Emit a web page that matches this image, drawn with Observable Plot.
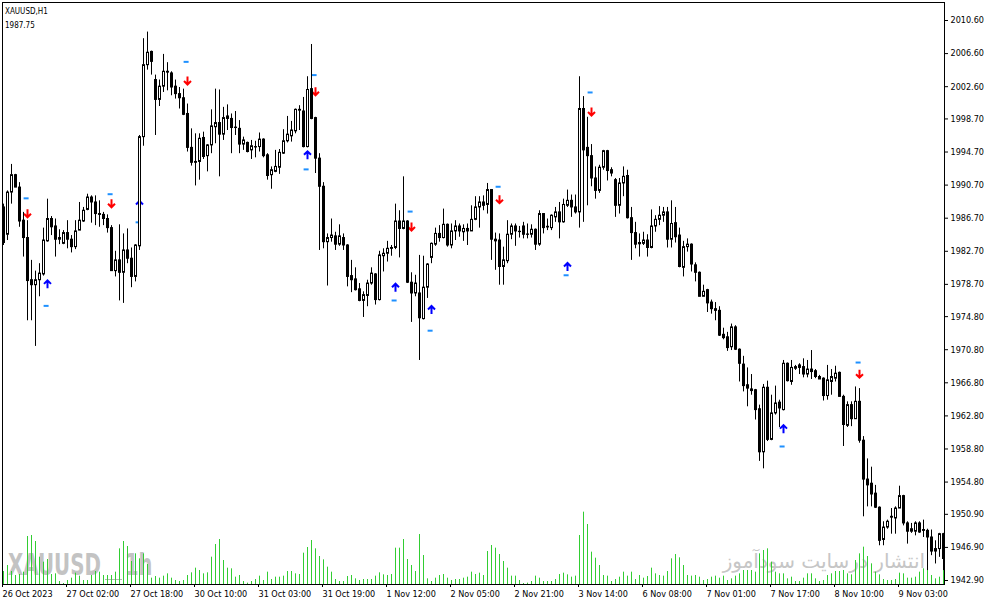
<!DOCTYPE html>
<html>
<head>
<meta charset="utf-8">
<script src="https://cdn.jsdelivr.net/npm/d3@7"></script>
<script src="https://cdn.jsdelivr.net/npm/@observablehq/plot@0.6"></script>
<style>
  body { margin: 0; background: #fff; }
  #chart { position: relative; width: 991px; height: 605px; overflow: hidden; }
  #chart > svg { position: absolute; left: 0; top: 0; }
</style>
</head>
<body>
<div id="chart">
  <svg id="wm" width="991" height="605">
    <g fill="#c3c3c3" font-family="'DejaVu Sans Condensed','DejaVu Sans',sans-serif" font-weight="bold" font-size="30">
      <text transform="translate(8,575) scale(0.735,1)">XAUUSD</text>
      <text transform="translate(125,575) scale(0.72,1)">1h</text>
    </g>
    <line x1="105" x2="122" y1="579.5" y2="579.5" stroke="#b8b8b8" stroke-width="1"></line>
    <text x="925" y="568" direction="rtl" text-anchor="start" font-family="'DejaVu Sans',sans-serif" font-size="20" fill="#c6c6c6">انتشار درسایت سودآموز</text>
    <text x="5" y="13.5" font-family="'DejaVu Sans Condensed','DejaVu Sans',sans-serif" font-size="8" fill="#000">XAUUSD,H1</text>
    <text x="5" y="28" font-family="'DejaVu Sans Condensed','DejaVu Sans',sans-serif" font-size="8" fill="#000">1987.75</text>
  </svg>
</div>
<script>
// XAUUSD H1 bars, 26 Oct 2023 10:00 -> 9 Nov 2023
const open = [
  1988.0, 1984.7, 1989.8, 1991.9, 1990.4, 1986.4, 1984.3, 1979.2, 1978.6, 1979.2,
  1979.9, 1983.9, 1986.6, 1985.7, 1984.1, 1983.6, 1984.9, 1984.1, 1983.2, 1985.2,
  1986.3, 1987.7, 1989.2, 1988.6, 1987.2, 1987.1, 1986.6, 1985.5, 1980.3, 1981.6,
  1980.1, 1982.8, 1981.8, 1979.6, 1983.3, 1996.5, 2005.2, 2006.8, 2003.4, 2001.0,
  2002.6, 2004.4, 2004.2, 2002.6, 2001.7, 2001.2, 1999.3, 1995.2, 1993.5, 1993.5,
  1996.4, 1994.2, 1995.5, 1997.7, 1998.2, 1996.8, 1999.0, 1998.7, 1997.65, 1997.5,
  1995.6, 1995.8, 1994.9, 1995.25, 1995.3, 1996.2, 1994.3, 1991.9, 1992.3, 1992.8,
  1994.5, 1996.0, 1996.6, 1997.2, 1999.7, 1999.6, 1995.3, 2002.3, 1998.8, 1993.9,
  1990.5, 1983.8, 1984.3, 1984.5, 1983.5, 1984.3, 1983.4, 1979.7, 1979.3, 1978.1,
  1976.7, 1977.3, 1978.8, 1979.9, 1976.8, 1982.1, 1982.4, 1983.1, 1983.1, 1986.3,
  1985.4, 1986.3, 1978.9, 1977.6, 1977.6, 1974.5, 1978.3, 1981.9, 1983.5, 1984.8,
  1984.3, 1985.9, 1983.4, 1985.1, 1985.7, 1985.0, 1985.4, 1985.1, 1986.5, 1988.0,
  1988.6, 1988.3, 1990.1, 1984.1, 1984.0, 1980.8, 1981.5, 1984.7, 1985.7, 1985.06,
  1985.7, 1984.73, 1984.7, 1985.3, 1983.5, 1987.2, 1985.66, 1985.5, 1986.8, 1987.4,
  1986.2, 1988.2, 1988.8, 1988.0, 1987.4, 1999.9, 1995.2, 1994.2, 1991.5, 1990.0,
  1992.8, 1994.8, 1992.5, 1991.3, 1988.2, 1990.9, 1991.8, 1986.7, 1984.9, 1983.7,
  1983.6, 1984.0, 1983.1, 1985.7, 1986.5, 1987.0, 1987.4, 1984.1, 1986.1, 1984.6,
  1980.7, 1983.2, 1983.5, 1981.0, 1980.1, 1977.2, 1978.0, 1976.5, 1975.7, 1975.5,
  1972.6, 1972.3, 1971.1, 1973.5, 1970.8, 1969.0, 1966.5, 1966.0, 1965.9, 1963.6,
  1958.4, 1966.2, 1959.9, 1963.1, 1964.4, 1963.5, 1969.1, 1966.9, 1968.5, 1968.9,
  1968.7, 1967.8, 1968.4, 1968.2, 1967.5, 1967.3, 1965.2, 1966.9, 1967.3, 1968.0,
  1965.1, 1961.6, 1964.1, 1962.4, 1964.5, 1959.8, 1955.1, 1954.6, 1953.4, 1951.7,
  1947.8, 1949.3, 1950.6, 1950.4, 1951.6, 1953.1, 1949.8, 1948.8, 1948.8, 1949.8,
  1949.0, 1948.9, 1948.1, 1946.4, 1946.7, 1948.5
];
const high = [
  1988.4, 1990.0, 1993.2, 1992.0, 1991.0, 1987.4, 1986.4, 1981.6, 1980.3, 1981.2,
  1985.5, 1989.0, 1986.9, 1986.6, 1985.3, 1985.2, 1986.4, 1984.6, 1986.4, 1988.6,
  1988.0, 1989.6, 1989.4, 1989.4, 1988.8, 1987.4, 1987.1, 1985.8, 1982.7, 1985.9,
  1984.8, 1985.4, 1983.1, 1983.5, 1996.7, 2008.4, 2009.2, 2006.9, 2004.0, 2003.4,
  2006.5, 2005.5, 2004.4, 2003.4, 2002.5, 2002.3, 2000.5, 1997.5, 1996.9, 1996.9,
  1997.1, 1995.6, 1999.8, 2002.3, 2002.2, 2000.1, 2000.4, 1999.3, 1999.6, 1998.5,
  1996.5, 1995.9, 1996.1, 1996.0, 1997.0, 1996.3, 1994.5, 1992.9, 1994.9, 1995.0,
  1997.4, 1999.0, 1998.4, 1999.9, 2000.3, 2001.3, 2003.8, 2007.7, 1998.9, 1994.5,
  1991.0, 1984.8, 1986.6, 1985.0, 1985.9, 1984.8, 1983.5, 1981.6, 1980.7, 1978.8,
  1977.8, 1979.2, 1980.7, 1980.0, 1982.7, 1983.0, 1983.9, 1983.4, 1988.4, 1987.6,
  1991.7, 1986.4, 1980.1, 1979.8, 1982.2, 1982.1, 1981.2, 1983.7, 1985.5, 1985.8,
  1987.8, 1986.0, 1986.0, 1986.4, 1986.0, 1985.9, 1986.0, 1988.2, 1989.3, 1989.3,
  1989.4, 1990.9, 1990.1, 1984.9, 1984.8, 1983.2, 1986.4, 1986.0, 1986.0, 1985.7,
  1986.2, 1986.0, 1985.9, 1985.4, 1987.6, 1987.2, 1986.6, 1987.1, 1988.0, 1988.6,
  1989.0, 1990.1, 1989.5, 1989.5, 2003.8, 2001.4, 1998.9, 1995.6, 1992.9, 1993.1,
  1994.9, 1994.9, 1992.8, 1991.5, 1991.5, 1992.9, 1992.5, 1988.0, 1986.2, 1984.8,
  1985.0, 1984.7, 1987.7, 1987.0, 1988.1, 1988.0, 1988.0, 1988.8, 1988.0, 1985.5,
  1983.9, 1984.2, 1983.6, 1981.3, 1980.2, 1978.6, 1978.1, 1976.8, 1976.5, 1976.0,
  1973.4, 1972.9, 1973.9, 1973.7, 1970.9, 1970.0, 1968.6, 1967.8, 1966.0, 1964.1,
  1966.6, 1967.0, 1965.3, 1966.4, 1964.7, 1969.5, 1969.2, 1969.5, 1968.9, 1969.1,
  1969.7, 1969.5, 1970.7, 1968.4, 1967.7, 1967.4, 1968.9, 1968.4, 1968.8, 1968.1,
  1965.3, 1964.5, 1964.5, 1966.3, 1966.1, 1960.3, 1957.6, 1956.6, 1954.4, 1951.8,
  1950.0, 1950.2, 1951.6, 1951.8, 1954.3, 1953.2, 1950.0, 1949.8, 1950.0, 1950.0,
  1950.2, 1949.1, 1949.0, 1947.7, 1948.6, 1948.6
];
const low = [
  1983.4, 1984.0, 1988.4, 1990.4, 1985.6, 1982.0, 1974.3, 1974.3, 1971.2, 1977.2,
  1979.7, 1983.8, 1984.6, 1982.0, 1983.5, 1983.5, 1983.0, 1982.5, 1982.9, 1985.2,
  1986.2, 1987.6, 1986.1, 1985.8, 1985.6, 1985.8, 1984.9, 1980.3, 1979.6, 1976.7,
  1976.4, 1981.2, 1978.3, 1979.0, 1982.8, 1995.4, 2004.6, 2004.0, 1996.7, 2000.2,
  2001.9, 2002.1, 2001.5, 2001.1, 1999.9, 1999.1, 1994.7, 1993.0, 1990.6, 1991.3,
  1993.8, 1992.3, 1994.5, 1995.7, 1991.7, 1996.1, 1997.3, 1994.5, 1996.7, 1994.5,
  1994.9, 1994.6, 1993.8, 1994.0, 1994.7, 1994.0, 1991.3, 1990.2, 1992.2, 1992.0,
  1994.4, 1995.8, 1995.9, 1996.9, 1997.3, 1995.2, 1995.2, 1998.6, 1992.1, 1982.8,
  1983.0, 1978.5, 1983.8, 1982.8, 1983.3, 1982.8, 1978.4, 1977.7, 1977.9, 1976.6,
  1974.7, 1976.0, 1978.6, 1976.2, 1976.7, 1980.2, 1981.4, 1982.1, 1982.9, 1981.9,
  1985.3, 1978.8, 1974.1, 1977.2, 1969.5, 1974.4, 1977.0, 1981.2, 1983.3, 1983.8,
  1984.2, 1983.2, 1983.0, 1984.0, 1984.4, 1983.9, 1983.4, 1985.1, 1986.4, 1985.5,
  1987.6, 1987.2, 1981.6, 1980.4, 1978.6, 1978.6, 1981.2, 1984.1, 1983.3, 1984.3,
  1984.2, 1984.2, 1984.3, 1982.8, 1983.3, 1984.8, 1985.2, 1985.2, 1986.2, 1984.2,
  1986.1, 1988.0, 1986.8, 1987.2, 1985.5, 1986.2, 1988.2, 1990.5, 1989.0, 1989.7,
  1992.5, 1991.2, 1991.7, 1986.8, 1987.2, 1989.3, 1986.6, 1981.6, 1983.0, 1982.0,
  1983.4, 1982.0, 1983.0, 1985.0, 1985.8, 1986.2, 1983.1, 1983.1, 1983.7, 1980.7,
  1979.6, 1982.6, 1980.2, 1979.0, 1977.2, 1977.2, 1975.3, 1975.1, 1974.3, 1972.4,
  1972.0, 1970.6, 1970.7, 1970.7, 1966.9, 1965.7, 1963.9, 1965.3, 1962.3, 1957.3,
  1956.4, 1959.7, 1959.8, 1962.9, 1961.4, 1963.4, 1966.9, 1966.5, 1968.3, 1967.8,
  1967.4, 1967.4, 1967.2, 1967.3, 1967.2, 1964.6, 1964.7, 1965.3, 1966.9, 1965.1,
  1959.1, 1961.4, 1961.5, 1962.4, 1959.5, 1950.6, 1951.8, 1951.8, 1951.6, 1947.1,
  1947.1, 1949.1, 1948.5, 1948.5, 1951.6, 1949.5, 1947.3, 1948.6, 1948.3, 1948.6,
  1948.1, 1944.1, 1945.9, 1944.9, 1945.7, 1944.1
];
const close = [
  1983.7, 1989.8, 1991.9, 1990.4, 1986.3, 1984.3, 1979.1, 1978.6, 1979.2, 1980.0,
  1984.0, 1986.6, 1985.6, 1984.1, 1984.3, 1984.9, 1984.1, 1983.2, 1985.1, 1986.4,
  1987.6, 1989.2, 1988.6, 1987.2, 1987.1, 1986.6, 1985.5, 1980.3, 1981.6, 1980.1,
  1982.8, 1981.8, 1979.6, 1983.4, 1996.5, 2005.2, 2006.7, 2005.6, 2001.0, 2002.6,
  2004.4, 2004.3, 2002.5, 2001.7, 2001.2, 1999.2, 1995.2, 1993.4, 1993.4, 1996.3,
  1994.1, 1995.5, 1997.8, 1998.2, 1996.8, 1998.8, 1998.7, 1997.6, 1997.6, 1995.6,
  1996.1, 1994.7, 1995.4, 1995.3, 1996.2, 1994.2, 1991.8, 1992.5, 1992.9, 1994.6,
  1996.0, 1996.8, 1997.3, 1999.8, 1999.8, 1995.3, 2002.2, 1998.7, 1993.9, 1990.5,
  1983.8, 1984.3, 1984.6, 1983.5, 1984.5, 1983.4, 1979.6, 1979.2, 1978.0, 1976.7,
  1977.4, 1978.8, 1980.0, 1976.8, 1982.2, 1982.4, 1983.0, 1983.0, 1986.3, 1985.4,
  1986.3, 1978.9, 1977.6, 1978.8, 1974.6, 1978.3, 1981.1, 1983.6, 1984.8, 1984.3,
  1985.9, 1983.4, 1985.1, 1985.7, 1985.1, 1985.4, 1985.1, 1986.5, 1988.0, 1988.6,
  1988.2, 1990.1, 1984.1, 1983.9, 1980.8, 1981.6, 1984.7, 1985.7, 1985.1, 1985.02,
  1984.7, 1984.69, 1985.3, 1983.5, 1987.2, 1985.5, 1985.58, 1987.0, 1987.4, 1986.2,
  1988.3, 1988.8, 1988.0, 1987.4, 1999.9, 1994.9, 1994.2, 1991.5, 1990.0, 1992.8,
  1994.8, 1992.4, 1992.1, 1988.2, 1990.9, 1991.7, 1986.7, 1984.9, 1983.5, 1983.55,
  1984.0, 1983.1, 1985.7, 1986.5, 1987.0, 1987.4, 1984.1, 1986.0, 1984.4, 1980.8,
  1983.2, 1983.5, 1981.1, 1980.1, 1977.2, 1977.8, 1976.4, 1975.7, 1975.5, 1972.5,
  1972.2, 1971.0, 1973.5, 1970.8, 1969.1, 1966.4, 1966.1, 1965.8, 1963.5, 1958.4,
  1966.2, 1959.9, 1963.1, 1964.3, 1963.7, 1969.1, 1967.0, 1968.6, 1968.7, 1968.6,
  1967.8, 1968.4, 1968.1, 1967.5, 1967.2, 1965.2, 1967.1, 1967.5, 1967.9, 1965.1,
  1961.7, 1964.1, 1962.4, 1964.5, 1959.8, 1955.1, 1954.4, 1953.3, 1951.7, 1947.7,
  1949.3, 1950.0, 1950.5, 1951.6, 1953.1, 1949.8, 1948.8, 1949.1, 1949.8, 1948.7,
  1948.9, 1948.1, 1946.4, 1946.7, 1948.5, 1945.5
];
// tick volume
const volume = [
  3900, 5700, 3900, 2700, 3000, 3700, 14400, 14700, 12900, 8200,
  6700, 7500, 3000, 3200, 900, 300, 1200, 1900, 3400, 2500,
  1200, 1200, 2700, 3900, 3700, 2700, 2700, 2700, 3700, 10700,
  12900, 11400, 6900, 9200, 7700, 9200, 6000, 1900, 2400, 1900,
  2500, 3200, 1900, 1200, 900, 1200, 2700, 3500, 4900, 4200,
  3200, 3500, 8200, 12000, 13500, 7200, 4900, 4700, 2200, 2700,
  900, 400, 900, 1500, 2500, 1200, 3700, 1500, 2200, 2200,
  2500, 3900, 3900, 3200, 3000, 9400, 11100, 13200, 10700, 8400,
  7400, 5200, 3700, 1500, 900, 900, 2400, 2700, 1700, 1200,
  1500, 1500, 1500, 2500, 3500, 2900, 2700, 3000, 10900, 10900,
  13500, 7500, 5700, 3900, 15000, 8700, 1700, 900, 1900, 2700,
  3000, 1900, 1200, 1500, 1500, 1900, 2200, 3700, 3000, 3400,
  2700, 9900, 11700, 10900, 9000, 6900, 4900, 2500, 2500, 1200,
  300, 400, 900, 2500, 1900, 900, 900, 900, 1500, 3000,
  3400, 2900, 2200, 2500, 14700, 21700, 18000, 9700, 7900, 5700,
  2700, 2500, 900, 1500, 2200, 3700, 2500, 3700, 1500, 2700,
  1900, 2400, 4900, 3200, 2700, 2500, 3900, 7700, 9000, 8000,
  5700, 2700, 2500, 2700, 2200, 1200, 1500, 2200, 2500, 1900,
  2500, 1200, 1700, 2500, 3200, 4200, 4200, 4200, 3700, 9200,
  10200, 10700, 6700, 3700, 3200, 3200, 1700, 2200, 900, 900,
  1900, 3200, 3200, 1700, 900, 1200, 2700, 3200, 3900, 3900,
  4200, 3200, 2900, 7200, 9200, 11200, 8400, 6200, 3700, 2900,
  1500, 1200, 1200, 1500, 3400, 3200, 1900, 1900, 2200, 3700,
  4700, 8200, 2700, 1700, 2200, 4200
];

// signal arrows (bar index, price)
const sellBar = [6, 27, 46, 78, 102, 124, 147, 214];
const sellPrice = [1987.3, 1988.5, 2003.35, 2002.05, 1985.7, 1989.0, 1999.6, 1967.9];
const buyBar = [11, 34, 76, 98, 107, 141, 195];
const buyPrice = [1978.7, 1988.3, 1994.3, 1978.3, 1975.6, 1980.8, 1961.2];
const markBar = [6, 11, 27, 34, 46, 78, 76, 102, 98, 107, 124, 147, 141, 195, 214];
const markPrice = [1989.1, 1976.1, 1989.6, 1986.2, 2005.6, 2004.0, 1992.6, 1987.5, 1976.75, 1973.1, 1990.5, 2001.9, 1979.8, 1959.1, 1969.25];

const xTickBar = [0, 16, 32, 48, 64, 80, 96, 112, 128, 144, 160, 176, 192, 208, 224];
const xTickLabels = ["26 Oct 2023", "27 Oct 02:00", "27 Oct 18:00", "30 Oct 10:00", "31 Oct 03:00",
  "31 Oct 19:00", "1 Nov 12:00", "2 Nov 05:00", "2 Nov 21:00", "3 Nov 14:00",
  "6 Nov 08:00", "7 Nov 01:00", "7 Nov 17:00", "8 Nov 10:00", "9 Nov 03:00"];
const yTicks = [2010.6, 2006.6, 2002.6, 1998.7, 1994.7, 1990.7, 1986.7, 1982.7, 1978.7,
  1974.8, 1970.8, 1966.8, 1962.8, 1958.8, 1954.8, 1950.9, 1946.9, 1942.9];

const bars = open.map((o, i) => ({i, o, h: high[i], l: low[i], c: close[i], v: volume[i]}));
const sells = sellBar.map((i, k) => ({i, p: sellPrice[k]}));
const buys = buyBar.map((i, k) => ({i, p: buyPrice[k]}));
const marks = markBar.map((i, k) => ({i, p: markPrice[k]}));
const xLabel = new Map(xTickBar.map((b, k) => [b, xTickLabels[k]]));

const arrowDown = {draw(ctx) { ctx.moveTo(0, -4); ctx.lineTo(0, 4); ctx.moveTo(-3.5, 0.5); ctx.lineTo(0, 4); ctx.lineTo(3.5, 0.5); }};
const arrowUp = {draw(ctx) { ctx.moveTo(0, 4); ctx.lineTo(0, -4); ctx.moveTo(-3.5, -0.5); ctx.lineTo(0, -4); ctx.lineTo(3.5, -0.5); }};

const W = 991, H = 605;
const xOpts = {domain: [0, 235], range: [3, 943], axis: null};

const volPlot = Plot.plot({
  width: W, height: H, margin: 0,
  style: {background: "transparent"},
  x: xOpts,
  y: {domain: [0, 23700], range: [584, 505], axis: null},
  marks: [
    Plot.ruleX(bars, {x: "i", y1: 0, y2: "v", stroke: "#32cd32"})
  ]
});

// body edges sit on pixel centres (rect gets no half-pixel offset)
const pricePlot = Plot.plot({
  width: W, height: H,
  marginLeft: 2, marginTop: 2, marginRight: 47, marginBottom: 21,
  style: {background: "transparent", fontFamily: "'DejaVu Sans Condensed','DejaVu Sans',sans-serif", fontSize: "9px", color: "#000"},
  x: xOpts,
  y: {domain: [1942.9, 2010.6], range: [580, 20], axis: null},
  marks: [
    Plot.ruleY(marks, {y: "p", x1: d => d.i - 0.85, x2: d => d.i + 0.4, stroke: "#1e90ff", strokeWidth: 2}),
    Plot.dot(sells, {x: "i", y: "p", symbol: arrowDown, fill: "none", stroke: "#ff0000", strokeWidth: 2}),
    Plot.dot(buys, {x: "i", y: "p", symbol: arrowUp, fill: "none", stroke: "#0000ff", strokeWidth: 2}),
    Plot.ruleX(bars, {x: "i", y1: "l", y2: "h", stroke: "#000"}),
    Plot.rect(bars, {x1: d => d.i - 0.125, x2: d => d.i + 0.375, y1: "o", y2: "c",
      fill: d => d.c >= d.o ? "#fff" : "#000", stroke: "#000"}),
    Plot.axisX({ticks: xTickBar, tickFormat: d => xLabel.get(d), label: null, tickSize: 3, tickPadding: 3, textAnchor: "start", dx: -1}),
    Plot.axisY({anchor: "right", ticks: yTicks, tickFormat: d => d.toFixed(2), label: null, tickSize: 3, tickPadding: 3}),
    Plot.frame({stroke: "#000"})
  ]
});

const chart = document.getElementById("chart");
chart.append(volPlot, pricePlot);
</script>
</body>
</html>
